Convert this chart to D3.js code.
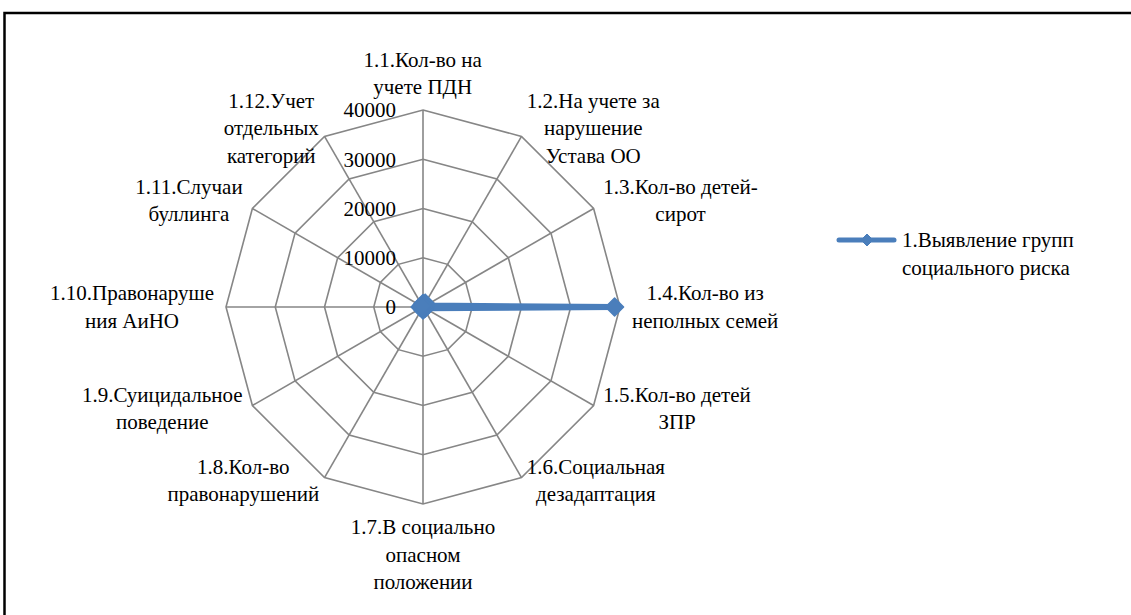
<!DOCTYPE html>
<html>
<head>
<meta charset="utf-8">
<script src="https://cdn.jsdelivr.net/npm/d3@7"></script>
<style>
  html, body { margin: 0; padding: 0; background: #fff; }
  #chart, #chart text, #chart tspan { font-family: "Liberation Serif", "Times New Roman", Tinos, serif !important; }
</style>
</head>
<body>
<svg id="chart" width="1131" height="615" font-family="Liberation Serif"></svg>
<script>
const categories = [
  ['1.1.Кол-во на', 'учете ПДН'],
  ['1.2.На учете за', 'нарушение', 'Устава ОО'],
  ['1.3.Кол-во детей-', 'сирот'],
  ['1.4.Кол-во из', 'неполных семей'],
  ['1.5.Кол-во детей', 'ЗПР'],
  ['1.6.Социальная', 'дезадаптация'],
  ['1.7.В социально', 'опасном', 'положении'],
  ['1.8.Кол-во', 'правонарушений'],
  ['1.9.Суицидальное', 'поведение'],
  ['1.10.Правонаруше', 'ния АиНО'],
  ['1.11.Случаи', 'буллинга'],
  ['1.12.Учет', 'отдельных', 'категорий']
];
const seriesName = ['1.Выявление групп', 'социального риска'];
const values = [700, 900, 600, 38900, 500, 400, 600, 300, 100, 600, 50, 400];
const ticks = [0, 10000, 20000, 30000, 40000];

const svg = d3.select('#chart');
const cx = 423, cy = 307, R = 197;
const fontSize = 21, lineH = 27.5;
const blue = '#4a7ebb', grid = '#868686';
const serif = 'Liberation Serif';

// outer frame
svg.append('rect')
  .attr('x', 4.5).attr('y', 13).attr('width', 1140).attr('height', 640)
  .attr('fill', 'none').attr('stroke', '#000').attr('stroke-width', 2.5);

const r = d3.scaleLinear().domain([0, 40000]).range([0, R]);
const n = categories.length;
const ang = i => i * 2 * Math.PI / n;
const px = (i, v) => cx + r(v) * Math.sin(ang(i));
const py = (i, v) => cy - r(v) * Math.cos(ang(i));

const g = svg.append('g');

// rings
ticks.filter(t => t > 0).forEach(t => {
  g.append('path')
    .attr('d', d3.line()(d3.range(n).map(i => [px(i, t), py(i, t)])) + 'Z')
    .attr('fill', 'none').attr('stroke', grid).attr('stroke-width', 1.6);
});
// spokes
d3.range(n).forEach(i => {
  g.append('line')
    .attr('x1', cx).attr('y1', cy)
    .attr('x2', px(i, 40000)).attr('y2', py(i, 40000))
    .attr('stroke', grid).attr('stroke-width', 1.6);
});

// tick labels
g.selectAll('text.tick').data(ticks).enter().append('text')
  .attr('class', 'tick')
  .attr('x', cx - 27)
  .attr('y', d => cy - r(d))
  .attr('dy', '0.35em')
  .attr('text-anchor', 'end')
  .attr('font-size', fontSize)
  .attr('font-family', serif)
  .text(d => d);

// category labels
categories.forEach((lines, i) => {
  const lg = g.append('g');
  const t = lg.append('text')
    .attr('font-size', fontSize)
    .attr('font-family', serif)
    .attr('text-anchor', 'middle');
  lines.forEach((s, k) => t.append('tspan').attr('x', 0).attr('y', k * lineH).text(s));
  const bb = t.node().getBBox();
  const dx = Math.sin(ang(i)), dy = -Math.cos(ang(i));
  const vx = px(i, 40000), vy = py(i, 40000);
  let bx, by; // box center
  if (Math.abs(dx) < 0.01) {
    bx = vx;
    by = dy < 0 ? vy - 11 - bb.height / 2 : vy + 11 + bb.height / 2;
  } else {
    const gap = 3 + 9 * dx * dx;
    bx = dx > 0 ? vx + gap + bb.width / 2 : vx - gap - bb.width / 2;
    by = vy + (dy < -0.01 ? -8 : (dy > 0.01 ? 3 : 0));
  }
  lg.attr('transform', `translate(${bx - (bb.x + bb.width / 2)},${by - (bb.y + bb.height / 2)})`);
});

// series
const diamond = s => `M0,${-s}L${s},0L0,${s}L${-s},0Z`;
g.append('path')
  .attr('d', d3.line()(values.map((v, i) => [px(i, v), py(i, v)])) + 'Z')
  .attr('fill', 'none').attr('stroke', blue).attr('stroke-width', 6)
  .attr('stroke-linejoin', 'round');
g.selectAll('path.marker').data(values).enter().append('path')
  .attr('class', 'marker')
  .attr('transform', (v, i) => `translate(${px(i, v)},${py(i, v)})`)
  .attr('d', diamond(9))
  .attr('fill', blue).attr('stroke', blue).attr('stroke-width', 1.5)
  .attr('stroke-linejoin', 'round');

// legend
const leg = svg.append('g');
leg.append('line').attr('x1', 839).attr('x2', 894).attr('y1', 240).attr('y2', 240)
  .attr('stroke', blue).attr('stroke-width', 5).attr('stroke-linecap', 'round');
leg.append('path').attr('transform', 'translate(867,240)').attr('d', diamond(6))
  .attr('fill', blue).attr('stroke', blue).attr('stroke-width', 1);
const lt = leg.append('text').attr('font-size', fontSize).attr('font-family', serif);
seriesName.forEach((s, k) => lt.append('tspan').attr('x', 902).attr('y', 247 + k * 28).text(s));
</script>
</body>
</html>
